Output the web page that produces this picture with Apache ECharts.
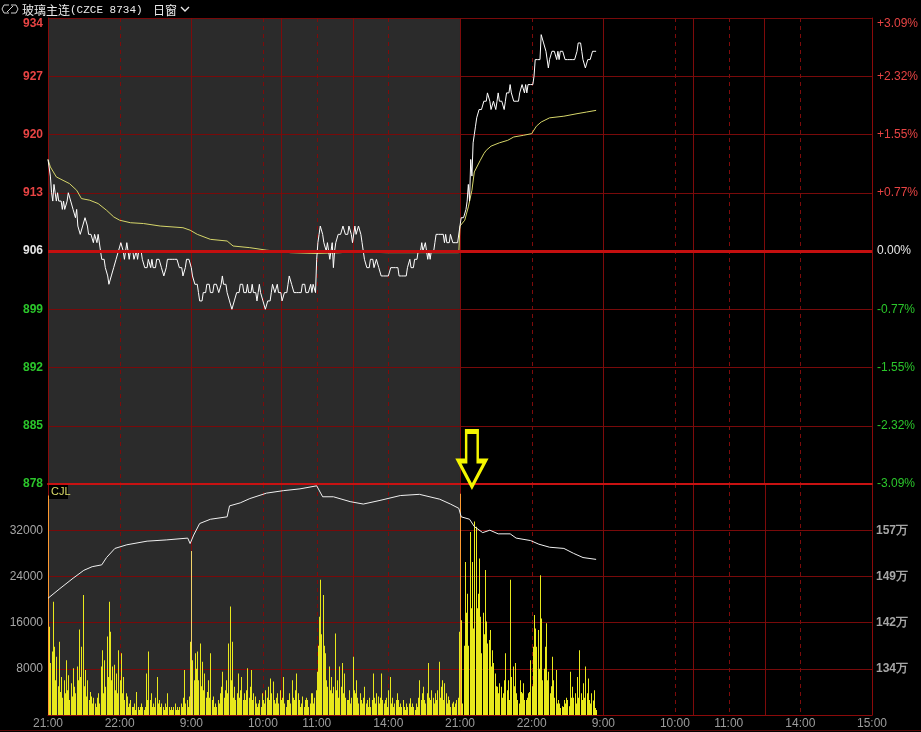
<!DOCTYPE html>
<html><head><meta charset="utf-8">
<script src="https://cdn.jsdelivr.net/npm/echarts@6/dist/echarts.min.js"></script>
<style>html,body{margin:0;padding:0;background:#000;}#c{width:921px;height:732px;}</style>
</head><body><div id="c"></div>
<script>
// ---------------- data ----------------
const titleName = '玻璃主连';
const titleCode = '(CZCE 8734)';
const periodName = '日窗';
const sessions = [['21:00','23:00'],['09:00','10:15'],['10:30','11:30'],['13:30','15:00']];
const tradingDays = 2;
const basePrice = 906;
const priceMin = 878, priceMax = 934, priceStep = 7;
const volMin = 0, volMax = 40000, volStep = 8000;
const oiMin = 126.6, oiMax = 164.6, oiStep = 7.6; // 万

// last price, one value per minute
const price = [
 917,917,915,913,912,914,913,912,913,912,912,912,911,912,911,
 911,912,913,913,912,912,911,911,910,911,909,909,908,908,909,
 909,910,910,909,908,908,908,908,907,908,908,907,908,908,906,
 905,905,905,904,904,903,902,902,903,903,904,904,905,905,906,
 906,907,907,906,905,906,907,906,905,906,906,906,905,905,906,
 905,906,906,906,905,905,904,904,904,905,905,904,905,904,904,
 904,905,905,905,905,904,904,903,903,904,905,905,905,905,905,
 905,905,905,905,905,904,904,904,903,903,904,905,905,905,905,
 904,903,903,902,902,902,901,900,900,900,901,901,901,902,902,
 902,901,901,901,902,902,902,902,901,901,902,903,902,902,902,
 901,901,900,900,899,899,900,900,901,901,901,902,902,902,901,
 901,901,902,901,901,901,902,901,901,901,900,901,902,901,901,
 900,900,899,899,900,900,900,901,902,902,901,901,902,901,901,
 901,900,900,901,901,901,902,903,903,902,902,901,901,901,901,
 901,901,901,902,902,902,901,901,901,901,902,901,902,902,901,
 905,907,908,909,909,908,907,907,906,907,907,905,906,907,904,
 906,907,907,908,908,908,908,909,909,908,908,908,909,909,908,
 907,907,909,908,908,909,909,908,907,906,905,905,904,904,904,
 905,905,905,904,904,905,905,904,904,903,903,903,903,903,903,
 903,903,904,904,904,904,904,904,904,903,903,903,903,903,903,
 903,904,904,905,904,904,904,905,905,905,906,906,906,907,906,
 906,907,907,905,906,905,906,906,906,907,908,908,908,908,908,
 908,908,907,908,907,907,907,908,908,907,907,907,907,907,907,
 909,910,910,910,910,911,912,914,912,917,915,919,920,921,922,
 922,923,923,923,923,924,924,924,925,925,924,923,923,924,924,
 923,924,925,924,924,924,924,923,924,925,925,925,926,925,925,
 924,924,924,924,924,925,925,926,926,925,926,925,926,926,926,
 926,926,927,929,929,929,929,929,932,932,931,931,930,930,928,
 929,929,930,930,930,930,929,930,929,930,930,930,930,929,929,
 929,929,929,929,929,929,929,929,930,931,931,931,930,929,929,
 928,928,929,929,929,929,930,930,930,930
];

// average price, [minute index, value]
const avgPrice = [
 [0,917],[2,916.1],[7,914.9],[18,914.1],[24,913.3],[28,912.3],[35,912.1],[42,911.7],[49,910.9],
 [55,910.1],[60,909.7],[69,909.4],[80,909.3],[94,909],[113,908.8],[119,908.5],[125,908],[136,907.4],
 [150,907.2],[155,906.6],[169,906.4],[183,906.1],[203,905.8],[225,905.7],[245,905.8],[253,905.9],
 [284,905.8],[344,905.8],
 [345,909],[349,909.7],[352,911.3],[355,913.3],[357,915.5],[362,916.9],[365,917.7],[367,918.1],
 [371,918.6],[378,919],[385,919.3],[390,919.7],[398,919.9],[405,920.1],[409,921],[413,921.5],
 [420,922],[432,922.2],[443,922.5],[451,922.7],[459,922.9]
];

// volume per minute
const volume = [
 38000,15300,9000,11000,19600,11800,6000,10100,5000,12700,4000,6600,3000,6000,3750,
 9500,4300,6900,2600,5500,3200,8100,4900,3750,8400,6000,14800,6600,11800,20800,
 5000,7800,3200,6000,2600,4000,3200,2000,3000,2000,1400,3000,3750,2000,8400,
 11200,3750,9500,4900,13600,6600,19600,14400,6000,8400,8700,4300,7200,3750,11200,
 6000,10700,3750,6600,2600,3750,3200,1400,2000,2600,1400,1400,2000,870,4000,
 1400,870,1400,2000,1400,870,1400,7200,2600,11000,2600,3750,1400,2000,1400,
 3000,6600,2000,2600,1400,2000,1400,870,2000,1400,3750,1400,870,1400,870,
 1400,2000,870,1400,870,1400,2000,1400,3000,7800,2000,2600,1400,3200,12700,
 28400,9500,6000,10700,8000,11000,6000,12400,5000,9200,4300,7200,3000,4000,6000,
 3000,10700,2600,3200,1400,2000,1400,2600,2000,3750,4900,7500,3000,4300,6000,
 3750,12400,18800,6000,12700,3000,4900,2600,3750,7200,3000,4300,6600,2600,3750,
 2600,4300,8100,3000,4900,7800,2600,3750,3200,2000,1400,2000,2600,1400,3750,
 2600,2000,4300,3000,4900,2600,6300,3750,5800,2600,2000,3000,3750,2000,4300,
 2600,3000,6600,2000,1400,2600,2600,3750,2000,6000,3000,2600,4300,7200,3750,
 2600,1400,2000,3200,1400,2600,3000,2600,1400,2000,3750,3750,2000,3000,4300,
 7500,12000,17000,23400,14000,20800,12000,10700,6000,4900,8400,4300,6600,3750,4900,
 14100,4300,6000,3000,8400,4900,9000,3750,7200,3000,2600,2600,4300,2000,3000,
 10100,4300,3750,6000,3000,2000,3750,2600,2000,3000,4900,2000,2600,1400,3000,
 1400,2600,7200,3000,2000,3750,3200,2000,3000,7200,2600,2000,2600,3000,1400,
 4300,6600,2000,3000,1400,2000,2600,3750,2600,1400,2000,1400,2600,1400,870,
 2000,1400,2000,2900,1400,2000,1400,870,2000,1400,3000,6000,2600,3750,4900,
 2600,2000,3750,9000,3000,2600,4300,3000,2000,3750,2600,4300,9200,3000,4900,
 6000,2600,5500,3750,2000,3200,2600,1400,2000,2300,1400,2000,2600,3000,14400,
 38300,16400,2000,12000,26500,17700,21000,12000,31700,18500,26500,15000,33500,32600,18500,
 21000,27100,17000,10700,17700,14000,25100,16200,12400,13000,14700,8400,11200,9000,7200,
 5000,4900,3750,5500,4900,3000,3750,6000,10700,4300,6000,2600,23400,6600,8400,
 5000,9000,3750,2600,2000,6000,4000,3750,5500,2600,2600,3000,3750,4000,9500,
 5000,11800,17300,15000,11800,14700,8000,24200,16700,6000,8000,11800,15900,6000,7500,
 3750,5000,10100,6000,3000,7800,2000,2600,2000,1200,1500,1400,2600,2000,3000,
 2600,1500,7500,3000,4900,3000,3750,2000,6600,3000,11200,3750,2600,5500,3000,
 8400,3750,6300,2600,2000,3750,2500,4300,1200,870
];

// open interest (万), [minute index, value]
const openInterest = [
 [0,145.8],[10,147.4],[21,149.1],[30,150.4],[37,151],[45,151.3],[49,152.5],[56,154],[66,154.6],
 [83,155.2],[99,155.4],[117,155.7],[119,154.8],[122,156.2],[127,158.1],[136,158.8],[150,159.2],
 [152,161],[161,161.5],[169,162.2],[183,163.1],[197,163.5],[211,163.8],[225,164.3],[230,162.5],
 [239,162.5],[253,161.7],[264,161.3],[278,161.9],[295,162.7],[311,162.9],[328,162.1],[337,161.3],
 [344,160.6],[346,159.2],[353,158.8],[357,157.6],[364,156.6],[370,157],[377,156.4],[387,156.4],
 [392,155.7],[404,155.3],[411,154.7],[420,154.2],[432,154],[440,153.2],[448,152.5],[459,152.2]
];

// annotation arrow position (minute index, price)
const arrowAt = [355, 881];

// ---------------- axis structure ----------------
function toMin(s){const p=s.split(':');return (+p[0])*60+(+p[1]);}
function fmt(t){return Math.floor(t/60)+':'+String(t%60).padStart(2,'0');}
const cats=[], labelIdx=new Set(), vGrid=[];
for(let d=0; d<tradingDays; d++){
  sessions.forEach(function(s){
    const a=toMin(s[0]), b=toMin(s[1]);
    for(let t=a;t<b;t++){
      const i=cats.length;
      if(t===a && i>0) vGrid.push([i,0]);
      else if(t%60===0 && t!==a) vGrid.push([i,1]);
      if(t%60===0) labelIdx.add(i);
      cats.push(d+'|'+fmt(t));
    }
  });
}
labelIdx.add(cats.length);
cats.push(tradingDays+'|'+sessions[sessions.length-1][1]);
const dayLen = (cats.length-1)/tradingDays;
const daySessionStart = toMin(sessions[0][1])-toMin(sessions[0][0]);

// ---------------- chart ----------------
const GRID='#780a0a';
const chart = echarts.init(document.getElementById('c'));
const priceColor = function(v){v=Number(v); return v>basePrice+0.01?'#e84444':(v<basePrice-0.01?'#2bc62b':'#e6e6e6');};
const bgX = function(grid){
  return {gridIndex:grid,type:'category',data:cats,boundaryGap:false,position:'top',z:0,
    axisLine:{show:false},axisTick:{show:false},axisLabel:{show:false},splitLine:{show:false},
    splitArea:{show:true,interval:function(i){return i%dayLen===0;},areaStyle:{color:['#2b2b2b','rgba(0,0,0,0)']}}};
};
const x0 = {gridIndex:0,type:'category',data:cats,boundaryGap:false,z:2,
  axisTick:{show:false},axisLabel:{show:false},splitLine:{show:false},
  axisLine:{show:true,onZero:false,lineStyle:{color:'#c81212',width:2}}};
const x1 = {gridIndex:1,type:'category',data:cats,boundaryGap:false,z:1,
  axisTick:{show:false},splitLine:{show:false},
  axisLine:{show:true,onZero:false,lineStyle:{color:'#8b0a0a',width:1}},
  axisLabel:{interval:function(i){return labelIdx.has(i);},formatter:function(v){return v.split('|')[1];},
    color:'#9c9c9c',fontSize:12,fontFamily:'Liberation Sans',margin:3,hideOverlap:false,showMinLabel:true,showMaxLabel:true}};

const gridLineSeries = function(xi, yi){
  return {type:'custom',xAxisIndex:xi,yAxisIndex:yi,data:vGrid,z:1,silent:true,clip:false,
    renderItem:function(params,api){
      const cs=params.coordSys;
      const x=Math.round(api.coord([api.value(0),0])[0])+0.5;
      return {type:'line',shape:{x1:x,y1:cs.y,x2:x,y2:cs.y+cs.height},
        style:{stroke:'#7e0b0b',lineWidth:1,lineDash:api.value(1)?[4,4]:null}};
    }};
};

chart.setOption({
  backgroundColor:'#000',
  animation:false,
  grid:[{left:48,right:49,top:18,height:466},{left:48,right:49,top:484,height:231}],
  xAxis:[x0, x1, bgX(0), bgX(1)],
  yAxis:[
    {gridIndex:0,type:'value',min:priceMin,max:priceMax,interval:priceStep,z:1,
      axisLine:{show:true,lineStyle:{color:'#8b0a0a'}},axisTick:{show:false},
      splitLine:{show:true,lineStyle:{color:GRID,width:1}},
      axisLabel:{margin:5,fontSize:12,fontWeight:'bold',fontFamily:'Liberation Sans',color:priceColor,verticalAlignMaxLabel:'top'}},
    {gridIndex:0,type:'value',position:'right',min:priceMin,max:priceMax,interval:priceStep,z:1,
      axisLine:{show:true,lineStyle:{color:'#8b0a0a'}},axisTick:{show:false},splitLine:{show:false},
      axisLabel:{margin:5,fontSize:12,fontFamily:'Liberation Sans',color:priceColor,verticalAlignMaxLabel:'top',
        formatter:function(v){const p=(v-basePrice)/basePrice*100;return (p>0.001?'+':'')+p.toFixed(2)+'%';}}},
    {gridIndex:1,type:'value',min:volMin,max:volMax,interval:volStep,z:1,
      axisLine:{show:true,lineStyle:{color:'#8b0a0a'}},axisTick:{show:false},
      splitLine:{show:true,lineStyle:{color:GRID,width:1}},
      axisLabel:{margin:5,fontSize:12,fontFamily:'Liberation Sans',color:'#a6a6a6',showMinLabel:false,showMaxLabel:false,
        formatter:function(v){return String(v);}}},
    {gridIndex:1,type:'value',position:'right',min:oiMin,max:oiMax,interval:oiStep,z:1,
      axisLine:{show:true,lineStyle:{color:'#8b0a0a'}},axisTick:{show:false},splitLine:{show:false},
      axisLabel:{margin:4,fontSize:12,fontWeight:'bold',fontFamily:'Liberation Sans',color:'#a6a6a6',showMinLabel:false,showMaxLabel:false,
        formatter:function(v){return Math.round(v)+'万';}}}
  ],
  series:[
    gridLineSeries(0,0),
    gridLineSeries(1,2),
    {type:'line',xAxisIndex:0,yAxisIndex:0,data:[],z:2,silent:true,
      markLine:{silent:true,symbol:'none',label:{show:false},
        data:[{yAxis:basePrice,lineStyle:{color:'#c40f0f',type:'solid',width:3}}]}},
    {name:'均价',type:'line',xAxisIndex:0,yAxisIndex:0,data:avgPrice,showSymbol:false,z:3,
      lineStyle:{color:'#d6d66a',width:1}},
    {name:'价格',type:'line',xAxisIndex:0,yAxisIndex:0,data:price,showSymbol:false,z:4,
      lineStyle:{color:'#ffffff',width:1},
      markPoint:{silent:true,data:[{coord:arrowAt,symbol:'path://M8,0 L20,0 L20,30 L28,30 L14,56 L0,30 L8,30 Z',
        symbolSize:[27,55],itemStyle:{color:'rgba(0,0,0,0)',borderColor:'#f5f500',borderWidth:3.5},label:{show:false}}]}},
    {name:'成交量',type:'custom',xAxisIndex:1,yAxisIndex:2,z:2,
      data:volume.map(function(v,i){return [i,v];}),
      renderItem:function(params,api){
        const i=api.value(0);
        const top=api.coord([i,api.value(1)]);
        const bot=api.coord([i,0]);
        let c='#e8e81c';
        if(i%dayLen===0) c='#ff9a30';
        else if(i%dayLen===daySessionStart) c='#f3d36a';
        return {type:'rect',shape:{x:Math.round(top[0]),y:top[1],width:1,height:bot[1]-top[1]},style:{fill:c}};
      }},
    {name:'持仓量',type:'line',xAxisIndex:1,yAxisIndex:3,data:openInterest,showSymbol:false,z:4,
      lineStyle:{color:'#f0f0f0',width:1}}
  ],
  graphic:[
    {type:'polyline',shape:{points:[[9,5],[4,5],[2,9],[4,13],[9,13]]},style:{stroke:'#cfcfcf',fill:null,lineWidth:1}},
    {type:'polyline',shape:{points:[[11,5],[16,5],[18,9],[16,13],[11,13]]},style:{stroke:'#cfcfcf',fill:null,lineWidth:1}},
    {type:'line',shape:{x1:7,y1:12,x2:13,y2:6},style:{stroke:'#cfcfcf',lineWidth:1}},
    {type:'text',x:22,y:10,style:{text:'{a|'+titleName+'}{b|'+titleCode+'}',verticalAlign:'middle',
      rich:{a:{fill:'#ececec',fontSize:12,fontFamily:'Noto Sans CJK SC'},b:{fill:'#ececec',fontSize:11,fontFamily:'Liberation Mono'}}}},
    {type:'text',x:153,y:10,style:{text:periodName,fill:'#ececec',fontSize:12,fontFamily:'Noto Sans CJK SC',verticalAlign:'middle'}},
    {type:'polyline',shape:{points:[[181,7],[185,11],[189,7]]},style:{stroke:'#ececec',fill:null,lineWidth:1.3}},
    {type:'rect',shape:{x:49,y:485,width:19,height:14},style:{fill:'#000'},z:10},
    {type:'text',x:51,y:492,z:11,style:{text:'CJL',fill:'#dede6a',fontSize:11,fontFamily:'Liberation Sans',verticalAlign:'middle'}},
    {type:'line',shape:{x1:0,y1:730.5,x2:921,y2:730.5},style:{stroke:'#5a0808',lineWidth:1}}
  ]
});
</script></body></html>
